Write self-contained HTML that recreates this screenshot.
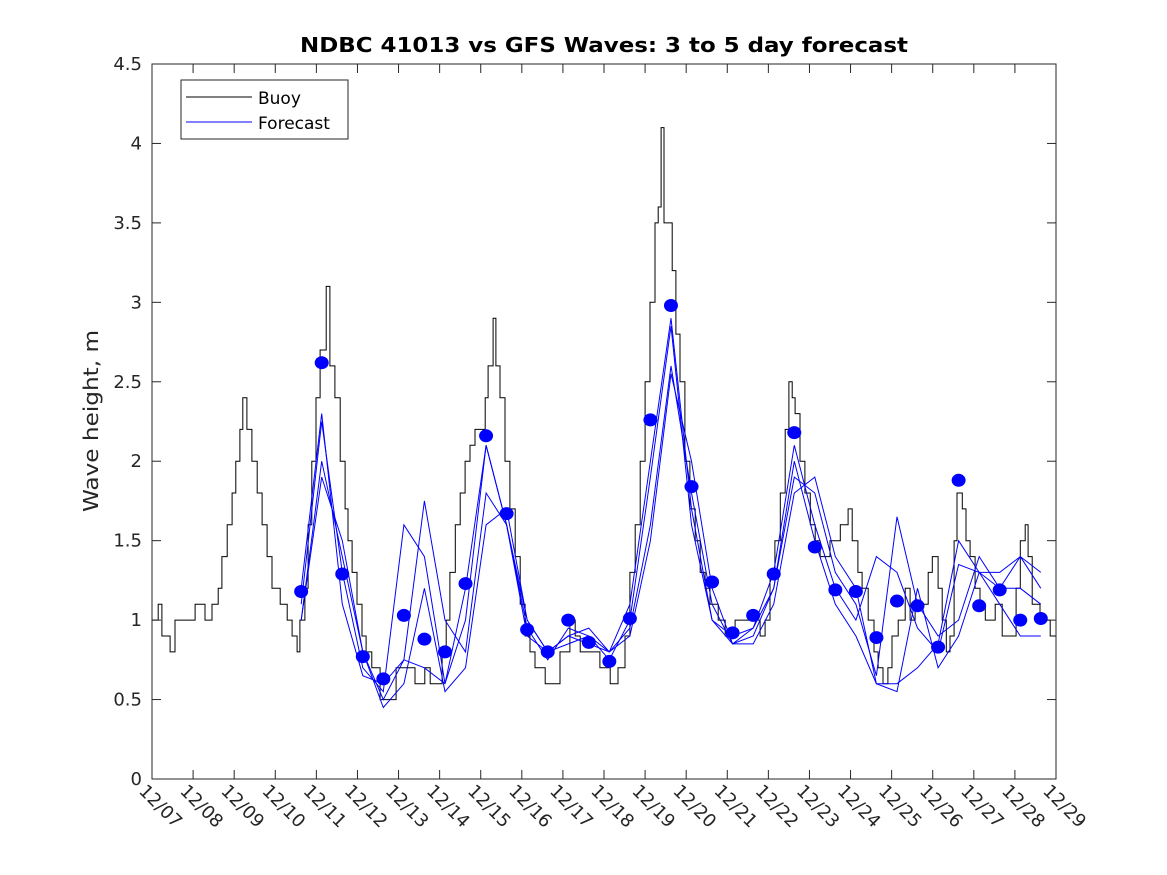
<!DOCTYPE html>
<html><head><meta charset="utf-8"><style>
body{margin:0;background:#fff;}
svg{display:block;font-family:"DejaVu Sans","Liberation Sans",sans-serif;}
</style></head><body>
<svg id="chart" width="1167" height="875" viewBox="0 0 1167 875">
<rect width="1167" height="875" fill="#fff"/>
<text x="604" y="52" text-anchor="middle" font-size="20" font-weight="bold" fill="#000" textLength="608" lengthAdjust="spacingAndGlyphs">NDBC 41013 vs GFS Waves: 3 to 5 day forecast</text>
<text transform="translate(98,421) rotate(-90)" text-anchor="middle" font-size="20" fill="#262626" textLength="182" lengthAdjust="spacingAndGlyphs">Wave height, m</text>
<g id="plot"></g>
<g id="axes"></g>
<g>
<rect x="181" y="80" width="167" height="59" fill="#fff" stroke="#262626" stroke-width="1"/>
<line x1="186" y1="97" x2="252" y2="97" stroke="#000"/>
<text x="258" y="104" font-size="17" fill="#000">Buoy</text>
<line x1="186" y1="122" x2="252" y2="122" stroke="#00f"/>
<text x="258" y="129" font-size="17" fill="#000">Forecast</text>
</g>
</svg>
<script>
const xTickLabels=["12/07","12/08","12/09","12/10","12/11","12/12","12/13","12/14","12/15","12/16","12/17","12/18","12/19","12/20","12/21","12/22","12/23","12/24","12/25","12/26","12/27","12/28","12/29"];
const yTicks=[0,0.5,1,1.5,2,2.5,3,3.5,4,4.5];
const buoyDays=[0,0.15,0.24,0.44,0.56,0.80,1.05,1.29,1.46,1.61,1.70,1.83,1.95,2.04,2.14,2.21,2.31,2.43,2.56,2.68,2.80,2.92,3.12,3.29,3.41,3.53,3.60,3.72,3.80,3.89,3.99,4.09,4.24,4.33,4.45,4.58,4.70,4.77,4.87,4.99,5.11,5.21,5.35,5.48,5.55,5.84,5.94,6.28,6.40,6.64,6.77,6.96,7.06,7.16,7.25,7.38,7.50,7.62,7.74,7.86,7.98,8.11,8.18,8.30,8.37,8.47,8.59,8.71,8.84,8.96,9.08,9.20,9.32,9.57,9.93,10.17,10.30,10.42,10.66,10.90,11.15,11.34,11.51,11.63,11.76,11.88,12.00,12.12,12.24,12.32,12.39,12.46,12.56,12.66,12.75,12.85,12.97,13.09,13.22,13.34,13.46,13.58,13.78,13.95,14.19,14.43,14.80,14.92,15.04,15.16,15.29,15.41,15.50,15.58,15.65,15.77,15.89,16.02,16.14,16.26,16.50,16.75,16.94,17.04,17.18,17.28,17.43,17.57,17.67,17.79,17.91,18.01,18.16,18.33,18.45,18.57,18.69,18.89,18.99,19.13,19.23,19.33,19.42,19.52,19.59,19.72,19.81,19.91,20.03,20.15,20.28,20.40,20.52,20.69,20.93,21.03,21.13,21.25,21.32,21.42,21.61,21.86,22];
const buoyValues=[1.0,1.1,0.9,0.8,1.0,1.0,1.1,1.0,1.1,1.2,1.4,1.6,1.8,2.0,2.2,2.4,2.2,2.0,1.8,1.6,1.4,1.2,1.1,1.0,0.9,0.8,1.0,1.2,1.6,2.0,2.4,2.7,3.1,2.6,2.4,2.0,1.7,1.5,1.3,1.1,0.9,0.8,0.7,0.7,0.5,0.5,0.7,0.7,0.6,0.7,0.6,0.6,0.8,1.0,1.3,1.6,1.8,2.0,2.1,2.2,2.2,2.4,2.6,2.9,2.6,2.4,2.0,1.7,1.4,1.1,0.9,0.8,0.7,0.6,0.8,1.0,0.9,0.8,0.8,0.7,0.6,0.7,0.9,1.3,1.6,2.0,2.5,3.0,3.5,3.6,4.1,3.5,3.5,3.2,2.8,2.5,2.0,1.7,1.5,1.3,1.2,1.1,1.0,0.9,1.0,1.0,0.9,1.0,1.3,1.5,1.8,2.2,2.5,2.4,2.3,2.0,1.8,1.6,1.5,1.4,1.5,1.6,1.7,1.5,1.3,1.2,1.0,0.8,0.7,0.6,0.7,0.9,1.0,1.2,1.0,1.1,1.1,1.3,1.4,1.2,1.0,0.8,0.9,1.5,1.8,1.7,1.5,1.4,1.2,1.1,1.0,1.0,1.1,0.9,0.9,1.2,1.5,1.6,1.4,1.1,1.0,0.9,1.0];
const fcDays=[3.63,4.13,4.63,5.13,5.63,6.13,6.63,7.13,7.63,8.13,8.63,9.13,9.63,10.13,10.63,11.13,11.63,12.13,12.63,13.13,13.63,14.13,14.63,15.13,15.63,16.13,16.63,17.13,17.63,18.13,18.63,19.13,19.63,20.13,20.63,21.13,21.63];
const dotValues=[1.18,2.62,1.29,0.77,0.63,1.03,0.88,0.80,1.23,2.16,1.67,0.94,0.80,1.00,0.86,0.74,1.01,2.26,2.98,1.84,1.24,0.92,1.03,1.29,2.18,1.46,1.19,1.18,0.89,1.12,1.09,0.83,1.88,1.09,1.19,1.00,1.01];
const fc1=[1.2,2.3,1.1,0.65,0.6,0.75,0.7,0.6,1.0,2.1,1.6,0.9,0.8,0.9,0.85,0.8,1.1,2.0,2.9,1.7,1.0,0.85,0.95,1.2,2.0,1.5,1.1,0.9,0.6,0.6,0.7,0.85,1.5,1.3,1.1,0.9,0.9];
const fc2=[1.1,2.25,1.3,0.7,0.55,1.6,1.4,0.6,1.2,2.1,1.6,0.95,0.75,0.95,0.9,0.75,1.0,1.9,2.85,1.6,1.0,0.9,0.95,1.3,2.1,1.6,1.2,1.0,1.4,1.3,0.95,0.8,1.35,1.3,1.2,1.2,1.1];
const fc3=[1.0,2.0,1.4,0.8,0.5,0.75,1.75,1.0,0.8,1.8,1.6,1.0,0.8,0.85,0.9,0.8,0.95,1.6,2.6,1.8,1.1,0.85,0.9,1.2,1.9,1.8,1.3,1.1,0.65,1.65,1.1,0.9,1.0,1.4,1.2,1.4,1.2];
const fc4=[1.0,1.9,1.5,0.8,0.45,0.6,1.2,0.55,0.7,1.6,1.7,1.0,0.8,0.9,0.95,0.8,0.9,1.5,2.55,2.0,1.2,0.85,0.85,1.1,1.8,1.9,1.4,1.2,0.6,0.55,1.2,0.7,0.9,1.3,1.3,1.4,1.3];

const L=152,R=1056,T=64,B=779,NS="http://www.w3.org/2000/svg";
const xs=d=>L+(R-L)*d/22, ys=v=>B-(B-T)*v/4.5;
function mk(tag,attrs,parent){const e=document.createElementNS(NS,tag);for(const k in attrs)e.setAttribute(k,attrs[k]);parent.appendChild(e);return e;}
const plot=document.getElementById('plot'),axes=document.getElementById('axes');
mk('rect',{x:L,y:T,width:R-L,height:B-T,fill:'#fff'},plot);
let d='M'+xs(buoyDays[0])+','+ys(buoyValues[0]);
for(let i=1;i<buoyDays.length;i++){d+=' H'+xs(buoyDays[i]).toFixed(1)+' V'+ys(buoyValues[i]).toFixed(1);}
const bp=mk('path',{d:d,fill:'none',stroke:'#000','stroke-width':1},plot);


[fc1,fc2,fc3,fc4].forEach((s,k)=>{
  const pd=s.map((v,i)=>(i?'L':'M')+xs(fcDays[i]).toFixed(1)+','+ys(v).toFixed(1)).join(' ');
  const p=mk('path',{d:pd,fill:'none',stroke:'#00f','stroke-width':1},plot);
  
  
});
dotValues.forEach((v,i)=>{
  const c=mk('ellipse',{cx:xs(fcDays[i]),cy:ys(v),rx:7,ry:6.5,fill:'#00f'},plot);
  
  
});
mk('rect',{x:L,y:T,width:R-L,height:B-T,fill:'none',stroke:'#262626','stroke-width':1},axes);
yTicks.forEach(v=>{
  const y=ys(v);
  mk('line',{x1:L,y1:y,x2:L+9,y2:y,stroke:'#262626'},axes);
  mk('line',{x1:R,y1:y,x2:R-9,y2:y,stroke:'#262626'},axes);
  const t=mk('text',{x:L-10,y:y+6,'text-anchor':'end','font-size':18,fill:'#262626'},axes);
  t.textContent=String(v);
  
  
});
xTickLabels.forEach((lab,i)=>{
  const x=xs(i);
  mk('line',{x1:x,y1:B,x2:x,y2:B-9,stroke:'#262626'},axes);
  mk('line',{x1:x,y1:T,x2:x,y2:T+9,stroke:'#262626'},axes);
  const t=mk('text',{transform:'translate('+(x-14)+','+(B+13)+') rotate(45)','font-size':18,fill:'#262626'},axes);
  t.textContent=lab;
  
  
});
</script>
</body></html>
